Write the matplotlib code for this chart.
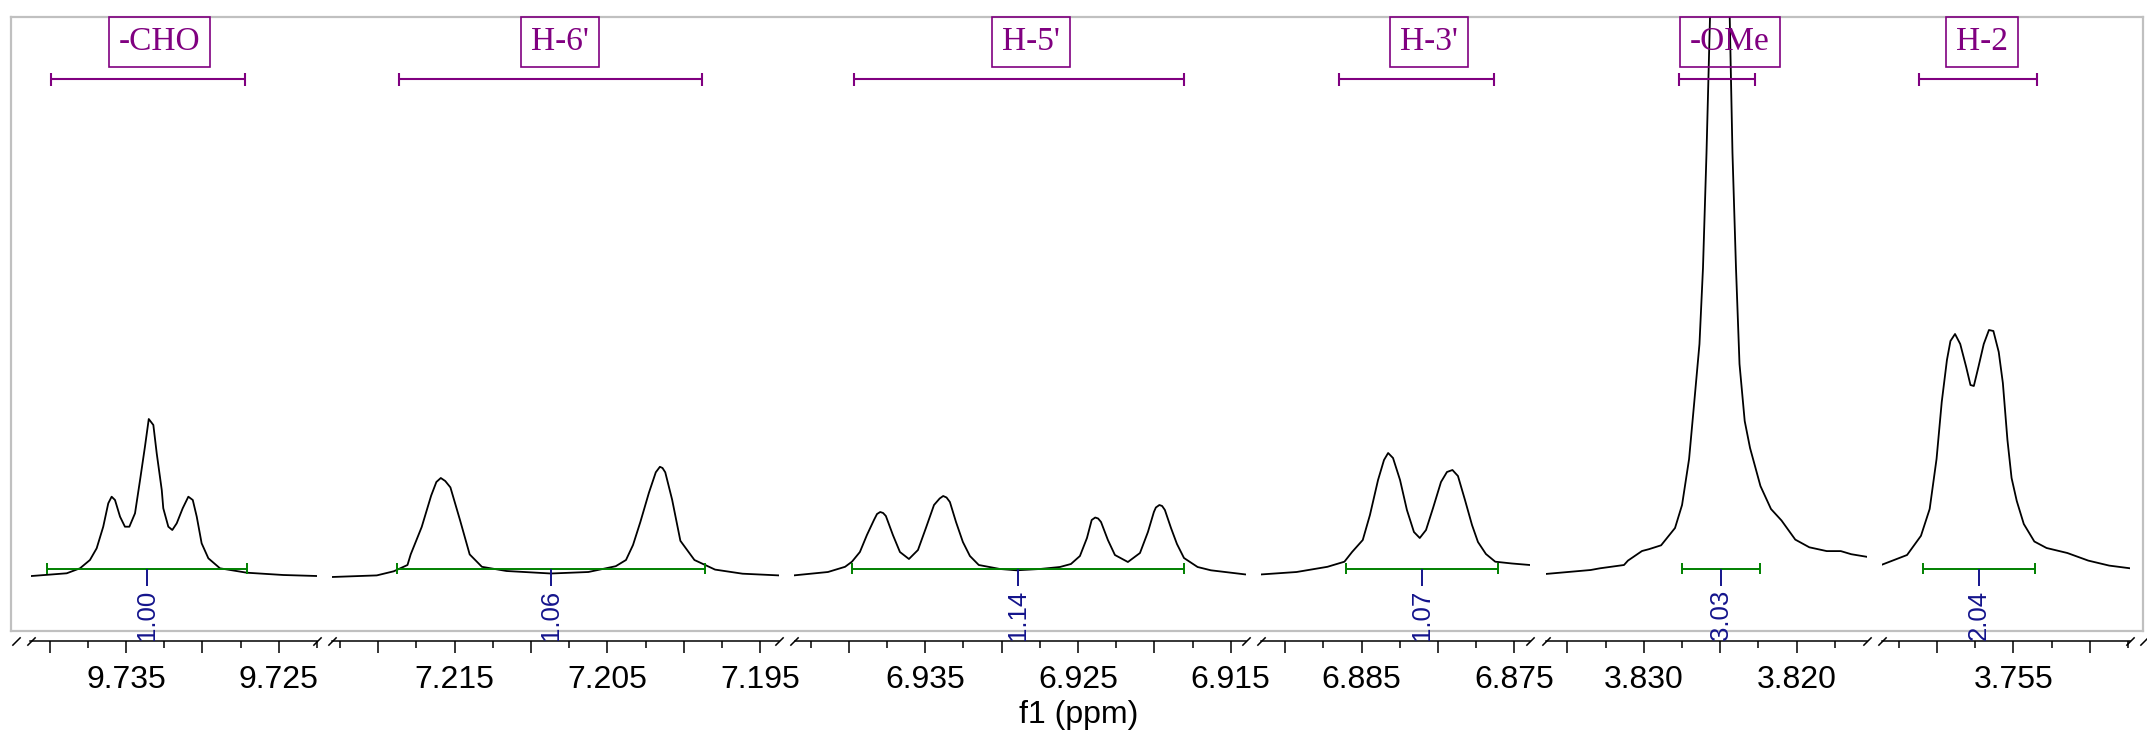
import matplotlib.pyplot as plt
from matplotlib.ticker import MultipleLocator, FuncFormatter

plt.rcParams['font.family'] = ['Liberation Sans', 'DejaVu Sans']

# ppm window of each axis segment (left, right)
seg_ranges = [(9.74125, 9.72250), (7.22303, 7.19378), (6.94355, 6.91400),
              (6.89157, 6.87399), (3.83643, 3.81541), (3.76358, 3.74734)]
seg_ticklabels = [[9.735, 9.725], [7.215, 7.205, 7.195], [6.935, 6.925, 6.915],
                  [6.885, 6.875], [3.830, 3.820], [3.755]]

# spectrum traces (ppm, intensity)
cho_ppm = [9.74117, 9.73888, 9.73801, 9.73736, 9.73692, 9.73649, 9.73616, 9.73594, 9.73572,
           9.73539, 9.73507, 9.73478, 9.73441, 9.73408, 9.73376, 9.73351, 9.73321, 9.73299,
           9.73266, 9.73256, 9.73223, 9.73197, 9.73168, 9.73129, 9.73092, 9.73063, 9.73037,
           9.73005, 9.72961, 9.72885, 9.72710, 9.72471, 9.72252]
cho_int = [4, 6.7, 11.7, 20, 31.7, 53.3, 76.7, 83.3, 80, 63.3, 53.3, 53.3, 66.7, 100, 133.3,
           161, 155, 126.7, 90, 71.7, 53.3, 50, 56.7, 71.7, 83.3, 80, 63.3, 36.7, 21.7, 11.7,
           7.3, 5, 4]

h6_ppm = [7.22303, 7.22010, 7.21899, 7.21809, 7.21788, 7.21716, 7.21654, 7.21620, 7.21591,
          7.21562, 7.21528, 7.21465, 7.21402, 7.21322, 7.21161, 7.20870, 7.20625, 7.20446,
          7.20379, 7.20333, 7.20285, 7.20229, 7.20184, 7.20157, 7.20140, 7.20122, 7.20077,
          7.20023, 7.19931, 7.19796, 7.19616, 7.19379]
h6_int = [3, 4.6, 8.7, 15, 25.6, 53, 84.4, 98, 102, 99, 92.6, 59.8, 25.6, 13.2, 9, 6.5, 8,
          13.8, 20, 35, 58, 87.2, 107.7, 113.2, 112, 107.7, 80.3, 39.2, 20, 10.4, 6.3, 4.6]

h5_ppm = [6.94360, 6.94136, 6.94024, 6.93979, 6.93927, 6.93881, 6.93835, 6.93815, 6.93794,
          6.93775, 6.93757, 6.93711, 6.93665, 6.93606, 6.93547, 6.93495, 6.93442, 6.93405,
          6.93382, 6.93360, 6.93338, 6.93298, 6.93253, 6.93207, 6.93149, 6.93010, 6.92902,
          6.92749, 6.92618, 6.92546, 6.92487, 6.92441, 6.92410, 6.92387, 6.92368, 6.92349,
          6.92304, 6.92258, 6.92173, 6.92094, 6.92042, 6.92003, 6.91990, 6.91967, 6.91949,
          6.91931, 6.91891, 6.91852, 6.91806, 6.91717, 6.91630, 6.91406]
h5_int = [4.6, 8, 13.2, 18.3, 28, 45, 60, 66, 68, 67, 64, 45, 28, 21, 30, 52, 75, 81.5, 84,
          82.5, 78, 58, 38, 24, 15, 11, 9.7, 11, 13, 16, 24, 42, 60, 62.5, 61.5, 58, 40, 25,
          18, 27, 48, 68, 72.5, 75, 74, 70, 52, 36, 22, 13, 9.7, 5.6]

h3_ppm = [6.89154, 6.88926, 6.88724, 6.88613, 6.88563, 6.88493, 6.88446, 6.88393, 6.88354,
          6.88327, 6.88295, 6.88249, 6.88204, 6.88158, 6.88120, 6.88079, 6.88033, 6.87981,
          6.87942, 6.87906, 6.87870, 6.87824, 6.87778, 6.87739, 6.87687, 6.87626, 6.87516,
          6.87399]
h3_int = [5.6, 8, 13.2, 18.3, 28, 40, 65, 100, 120, 127, 122, 100, 70, 48, 42, 50, 72, 98,
          108, 110, 104, 80, 55, 38, 26, 18.3, 16.5, 15]

ome_ppm = [3.83645, 3.83348, 3.83287, 3.83130, 3.83104, 3.83012, 3.82967, 3.82887, 3.82796,
           3.82750, 3.82704, 3.82670, 3.82636, 3.82613, 3.82590, 3.82567, 3.82501, 3.82438,
           3.82420, 3.82397, 3.82374, 3.82340, 3.82305, 3.82237, 3.82168, 3.82099, 3.82009,
           3.81917, 3.81803, 3.81711, 3.81643, 3.81541]
ome_int = [6, 10, 11.7, 15, 19.4, 29, 30.8, 34.7, 52, 75, 121, 178, 236, 312, 427, 563, 965,
           563, 427, 312, 216, 159, 132, 94, 71, 59.5, 40.4, 32.7, 28.9, 28.9, 25.8, 23.2]

h2_ppm = [3.76357, 3.76196, 3.76105, 3.76048, 3.76003, 3.75969, 3.75935, 3.75912, 3.75882,
          3.75848, 3.75809, 3.75781, 3.75759, 3.75729, 3.75694, 3.75660, 3.75631, 3.75596,
          3.75569, 3.75539, 3.75512, 3.75478, 3.75432, 3.75363, 3.75283, 3.75147, 3.75010,
          3.74873, 3.74736]
h2_int = [15.5, 25, 44.2, 71, 121, 178, 220, 239, 246, 236, 213, 195, 194, 213, 236, 250, 249,
          228, 197, 140, 102, 79, 56, 38.5, 32, 27, 19.4, 14.4, 11.7]

# integrals (green) and multiplet labels (purple)
int_ranges = [(9.74018, 9.72711), (7.21876, 7.19863), (6.93979, 6.91809),
              (6.88605, 6.87608), (3.82751, 3.82240), (3.76094, 3.75361)]
int_values = ['1.00', '1.06', '1.14', '1.07', '3.03', '2.04']
mult_ranges = [(9.73991, 9.72721), (7.21865, 7.19882), (6.93963, 6.91808),
               (6.88650, 6.87635), (3.82770, 3.82272), (3.76118, 3.75347)]
mult_label_ppm = [9.73281, 7.20808, 6.92808, 6.88060, 3.82436, 3.75703]
mult_labels = ['-CHO', "H-6'", "H-5'", "H-3'", '-OMe', 'H-2']

traces = [(cho_ppm, cho_int), (h6_ppm, h6_int), (h5_ppm, h5_int),
          (h3_ppm, h3_int), (ome_ppm, ome_int), (h2_ppm, h2_int)]

W, H, DPI = 2147, 732, 100
PX_PER_PPM = 15280
seg_left_px = [30.5, 332, 794.5, 1261.3, 1545.6, 1882.3]
AX_BOTTOM, AX_TOP = 641, 17
YLIM = (-61, 563)

PURPLE = '#800080'
GREEN = '#008000'
NAVY = '#14148c'


def fx(px):
    return px / W


def fy(py):
    return 1 - py / H


def make_formatter(labels):
    def fmt(v, pos):
        for l in labels:
            if abs(v - l) < 1e-6:
                return f'{l:.3f}'
        return ''
    return FuncFormatter(fmt)


fig = plt.figure(figsize=(W / DPI, H / DPI), dpi=DPI)
fig.patch.set_facecolor('white')

# gray frame around the plot
frame = fig.add_axes([fx(11), fy(631), fx(2143 - 11), (631 - 17) / H], zorder=0)
frame.set_xticks([])
frame.set_yticks([])
for s in frame.spines.values():
    s.set_color('#c0c0c0')
    s.set_linewidth(1.6)

slash = dict(marker=[(-1, -1), (1, 1)], markersize=6, linestyle='none',
             color='k', mec='k', mew=1.1, clip_on=False)

axes = []
for i, rng in enumerate(seg_ranges):
    w_px = (rng[0] - rng[1]) * PX_PER_PPM
    ax = fig.add_axes([fx(seg_left_px[i]), fy(AX_BOTTOM), w_px / W,
                       (AX_BOTTOM - AX_TOP) / H], zorder=2)
    ax.set_xlim(rng)
    ax.set_ylim(YLIM)
    ax.patch.set_visible(False)
    for side in ['top', 'left', 'right']:
        ax.spines[side].set_visible(False)
    ax.spines['bottom'].set_linewidth(1.1)
    ax.set_yticks([])
    ax.xaxis.set_major_locator(MultipleLocator(0.005))
    ax.xaxis.set_minor_locator(MultipleLocator(0.0025))
    ax.xaxis.set_major_formatter(make_formatter(seg_ticklabels[i]))
    ax.tick_params(axis='x', which='major', length=8.4, width=1.1, pad=9, labelsize=23)
    ax.tick_params(axis='x', which='minor', length=4.7, width=1.1)

    # spectrum
    xs, ys = traces[i]
    ax.plot(xs, ys, color='black', lw=1.3, solid_joinstyle='round')

    # axis break marks
    ax.plot([0, 1], [0, 0], transform=ax.transAxes, **slash)
    if i == 0:
        ax.plot([-15 / w_px], [0], transform=ax.transAxes, **slash)
    if i == len(seg_ranges) - 1:
        ax.plot([1 + 14 / w_px], [0], transform=ax.transAxes, **slash)

    # integral
    a, b = int_ranges[i]
    mid = (a + b) / 2
    ax.hlines(11.4, a, b, color=GREEN, lw=1.4)
    ax.vlines([a, b], 6.3, 17.3, color=GREEN, lw=1.4)
    ax.vlines(mid, -6, 11.4, color=NAVY, lw=1.4)
    ax.text(mid, -34.5, int_values[i], rotation=90, ha='center', va='center',
            fontsize=18.5, color=NAVY, clip_on=False, zorder=5)

    # multiplet bracket and label
    a, b = mult_ranges[i]
    ax.hlines(501, a, b, color=PURPLE, lw=1.5)
    ax.vlines([a, b], 494, 507, color=PURPLE, lw=1.5)
    ax.text(mult_label_ppm[i], 538, mult_labels[i], ha='center', va='center',
            fontsize=24, color=PURPLE, family=['Liberation Serif', 'DejaVu Serif'],
            clip_on=False,
            bbox=dict(boxstyle='square,pad=0.3', fc='none', ec=PURPLE, lw=1.2))
    axes.append(ax)

fig.text(fx(1078.5), fy(723), 'f1 (ppm)', ha='center', va='baseline', fontsize=23)

fig.savefig('out.png', dpi=DPI)
